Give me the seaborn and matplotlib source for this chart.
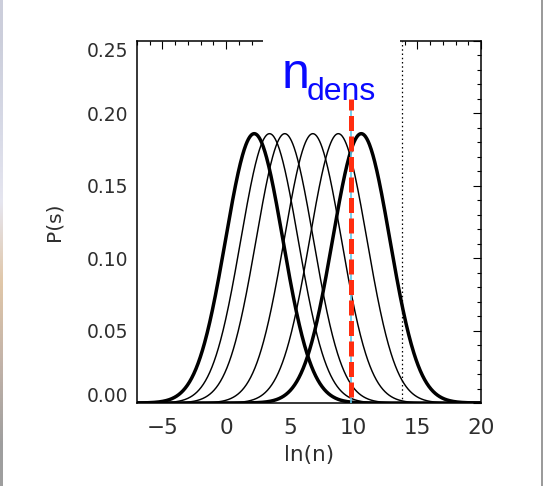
import numpy as np
import pandas as pd
import matplotlib
matplotlib.use("Agg")
import matplotlib.pyplot as plt
from matplotlib.patches import Rectangle
from matplotlib.ticker import MultipleLocator
from matplotlib.transforms import ScaledTranslation
import seaborn as sns

# Log-normal density PDFs: centre of each curve in ln(n), common width and peak height
peak_centers = [2.2, 3.4, 4.6, 6.8, 8.8, 10.6]
curve_weight = ["thick", "thin", "thin", "thin", "thin", "thick"]
peak_height = 0.186
ln_width = 2.25

# Markers
n_dens = 9.8          # critical density (red dashed)
n_dens_top = 0.21
n_limit = 13.8        # dotted limit line

x_ticks = [-5, 0, 5, 10, 15, 20]
y_ticks = [0.00, 0.05, 0.10, 0.15, 0.20, 0.25]
x_lim = (-7, 20)
y_lim = (0.0, 0.25)

sns.set_style("white")
plt.rcParams["font.family"] = ["DejaVu Sans"]

W, H = 543, 486
fig = plt.figure(figsize=(W / 100, H / 100), dpi=100)
fig.patch.set_facecolor("white")
ax = fig.add_axes([137 / W, 1 - 403 / H, 344 / W, 362 / H])

grid = np.linspace(x_lim[0], x_lim[1], 800)
rows = []
for i, (mu, w) in enumerate(zip(peak_centers, curve_weight)):
    dens = peak_height * np.exp(-0.5 * ((grid - mu) / ln_width) ** 2)
    rows.append(pd.DataFrame({"ln_n": grid, "P": dens, "curve": i, "weight": w}))
df = pd.concat(rows, ignore_index=True)

for w, lw, z in [("thin", 1.05, 3), ("thick", 2.5, 4)]:
    sub = df[df["weight"] == w]
    sns.lineplot(data=sub, x="ln_n", y="P", units="curve", estimator=None,
                 color="black", linewidth=lw, ax=ax, zorder=z, legend=False)

# dotted limit and the n_dens marker (thin cyan underneath the red dashes)
ax.axvline(n_limit, color="black", linestyle=(0, (1.2, 2.2)), linewidth=0.9, zorder=2)
ax.plot([n_dens, n_dens], [0.0, n_dens_top - 0.002], color="#5cc8ea", linewidth=1.2, zorder=5)
ax.plot([n_dens, n_dens], [0.004, n_dens_top], color="#ff2d0f", linewidth=3.6,
        linestyle=(0, (3.0, 1.1)), zorder=6, solid_capstyle="butt", dash_capstyle="butt")

ax.set_xlim(*x_lim)
ax.set_ylim(*y_lim)
ax.set_xticks(x_ticks)
ax.set_yticks(y_ticks)
ax.set_xticklabels([f"{t:d}".replace("-", "\u2212") for t in x_ticks])
ax.set_yticklabels([f"{t:.2f}" for t in y_ticks])
ax.xaxis.set_minor_locator(MultipleLocator(1))
ax.yaxis.set_minor_locator(MultipleLocator(0.01))
ax.tick_params(which="both", direction="in", top=True, right=True, width=0.8, color="black")
ax.tick_params(which="major", length=5.5)
ax.tick_params(which="minor", length=3.0)
ax.tick_params(axis="x", which="major", pad=10.5, labelsize=15.5, labelcolor="#2e2e2e")
ax.tick_params(axis="y", which="major", pad=6.5, labelsize=13.5, labelcolor="#2e2e2e")
for s in ax.spines.values():
    s.set_linewidth(1.1)
    s.set_color("black")

ylabs = ax.get_yticklabels()
ylabs[0].set_transform(ylabs[0].get_transform() + ScaledTranslation(0, 0.08, fig.dpi_scale_trans))
ylabs[-1].set_transform(ylabs[-1].get_transform() + ScaledTranslation(0, -0.09, fig.dpi_scale_trans))

ax.set_xlabel("ln(n)", fontsize=15.5, color="#2e2e2e")
ax.set_ylabel("P(s)", fontsize=14.5, color="#2e2e2e")
ax.xaxis.set_label_coords(0.5, (403 - 455) / 362)
ax.xaxis.label.set_va("center")
ax.yaxis.set_label_coords((54 - 137) / 344, 0.5)
ax.yaxis.label.set_va("center")

# white label box interrupting the top frame
ax.add_patch(Rectangle((2.9, 0.215), 13.63 - 2.9, 0.05, facecolor="white", edgecolor="none",
                       transform=ax.transData, clip_on=False, zorder=10))

# n_dens label
fig.text(282 / W, 1 - 88 / H, "n", fontsize=36, color="#0a0aff", family="Liberation Sans",
         ha="left", va="baseline", zorder=11)
fig.text(307 / W, 1 - 100 / H, "dens", fontsize=23, color="#0a0aff", family="Liberation Sans",
         ha="left", va="baseline", zorder=11)

# thin frame strips along the image edges
left = fig.add_axes([0, 0, 2.2 / W, 1])
strip = np.array([[0.80, 0.81, 0.86], [0.84, 0.85, 0.90], [0.90, 0.90, 0.94],
                  [0.88, 0.78, 0.66], [0.76, 0.70, 0.66], [0.62, 0.62, 0.62]])
left.imshow(strip[:, None, :], aspect="auto", interpolation="bilinear", extent=(0, 1, 0, 1))
left.axis("off")
right = fig.add_axes([540.5 / W, 0, 2.5 / W, 1])
right.set_facecolor("#9b9b9b")
right.set_xticks([])
right.set_yticks([])
for s in right.spines.values():
    s.set_visible(False)

fig.savefig("out.png", dpi=100)
